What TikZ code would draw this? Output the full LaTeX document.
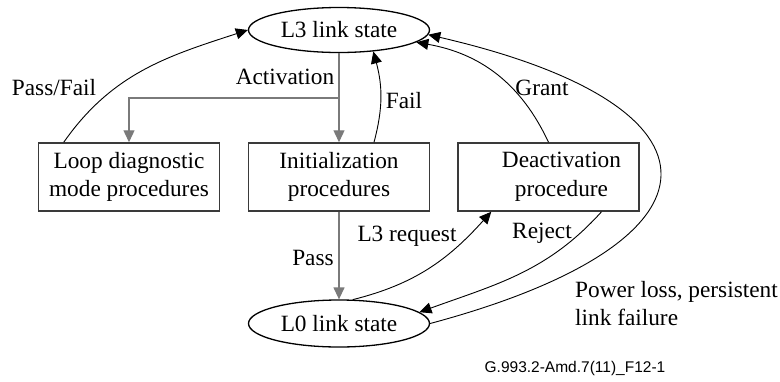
\documentclass[tikz,border=0pt]{standalone}
\usepackage{fontspec}
\setmainfont{Liberation Serif}
\setsansfont{Liberation Sans}
\usetikzlibrary{arrows.meta,shapes.geometric,calc}
\definecolor{boxgray}{HTML}{3A3A3A}
\definecolor{flowgray}{HTML}{7A7A7A}
\begin{document}
\begin{tikzpicture}[x=1pt,y=1pt,
  every node/.style={font=\fontsize{23.3}{28.5}\selectfont, inner sep=0pt},
  state/.style={draw=black, line width=1.3pt, ellipse, minimum width=181pt, minimum height=45pt},
  procbox/.style={draw=boxgray, line width=1.5pt, rectangle, minimum width=181pt, minimum height=68pt, align=center},
  tip/.style={-{Triangle[length=12pt,width=11pt]}},
  flow/.style={draw=flowgray, line width=1.3pt, tip},
  trans/.style={draw=black, line width=0.9pt, tip}]
\useasboundingbox (0,0) rectangle (780,-381);

% states
\node[state] (L3) at (339,-30) {L3 link state};
\node[state, minimum height=47pt] (L0) at (339,-323.5) {L0 link state};

% procedures
\node[procbox] (loop) at (129,-177) {Loop diagnostic\\mode procedures};
\node[procbox] (init) at (339,-177) {Initialization\\procedures};
\node[procbox] (deact) at (548.5,-177) {};
\node[align=center] (deacttxt) at (561.5,-177) {Deactivation\\procedure};

% activation and pass
\coordinate (actsplit) at (339,-98);
\draw[flow] (L3.south) -- (init.north);
\draw[flow] (actsplit) -| (loop.north);
\draw[flow] (init.south) -- (L0.north);

% transitions back and forth
\draw[trans] ($(loop.north west)+(26,0)$) to[out=55,in=-162] (L3.west);
\draw[trans] ($(init.north)+(35,0)$) to[out=75,in=-75] (L3.-32);
\draw[trans] (deact.north) to[out=115,in=-10] (L3.-9);
\draw[trans] (L0.60) to[out=14,in=-132] ($(deact.south west)+(34,0)$);
\draw[trans] ($(deact.south)+(53,0)$) to[out=-132,in=20] (L0.8);
\draw[trans] (L0.east) to[out=15,in=-13,looseness=2.8] (L3.-3);

% labels
\node (actlbl) at (285,-77) {Activation};
\node (pflbl) at (54,-88) {Pass/Fail};
\node (faillbl) at (404,-101) {Fail};
\node (grantlbl) at (542,-88) {Grant};
\node (reqlbl) at (407,-236) {L3 request};
\node (passlbl) at (313,-258) {Pass};
\node (rejlbl) at (542,-233) {Reject};
\node[anchor=west, align=left] (pwrlbl) at (575,-303.5) {Power loss, persistent\\link failure};

\node (figid) at (575,-368) {\sffamily\fontsize{15.5}{18}\selectfont G.993.2-Amd.7(11)\_F12-1};
\end{tikzpicture}
\end{document}
